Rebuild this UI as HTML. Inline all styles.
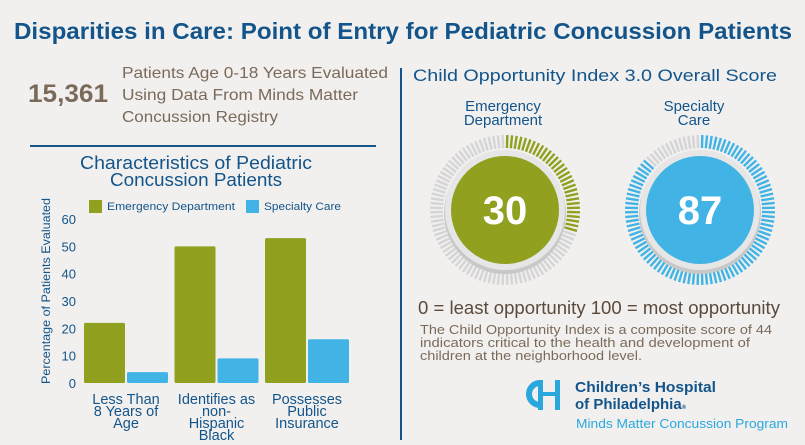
<!DOCTYPE html>
<html><head><meta charset="utf-8"><style>
body{margin:0;background:#f2f0ef;}
svg{display:block;font-family:"Liberation Sans",sans-serif;}
</style></head><body>
<svg id="s" width="805" height="445" viewBox="0 0 805 445">
<rect width="805" height="445" fill="#f2f0ef"/>
<text x="14" y="39" font-size="23" font-weight="bold" fill="#13558a" textLength="778" lengthAdjust="spacingAndGlyphs">Disparities in Care: Point of Entry for Pediatric Concussion Patients</text>
<line x1="401" y1="68" x2="401" y2="440" stroke="#13558a" stroke-width="2"/>
<line x1="30" y1="146" x2="376" y2="146" stroke="#13558a" stroke-width="2"/>
<text x="28" y="102" font-size="25" font-weight="bold" fill="#7a6a5a" textLength="80" lengthAdjust="spacingAndGlyphs">15,361</text>
<g font-size="16" fill="#7a6a5a">
<text x="122" y="78" textLength="266" lengthAdjust="spacingAndGlyphs">Patients Age 0-18 Years Evaluated</text>
<text x="122" y="100" textLength="236" lengthAdjust="spacingAndGlyphs">Using Data From Minds Matter</text>
<text x="122" y="122" textLength="156" lengthAdjust="spacingAndGlyphs">Concussion Registry</text>
</g>
<g font-size="18" fill="#13558a" text-anchor="middle">
<text x="196" y="169" textLength="232" lengthAdjust="spacingAndGlyphs">Characteristics of Pediatric</text>
<text x="196" y="186" textLength="172" lengthAdjust="spacingAndGlyphs">Concussion Patients</text>
</g>
<rect x="89" y="200" width="13" height="13" fill="#91a01f"/>
<text x="107" y="210" font-size="11" fill="#13558a" textLength="128" lengthAdjust="spacingAndGlyphs">Emergency Department</text>
<rect x="246" y="200" width="13" height="13" fill="#41b4e5"/>
<text x="264" y="210" font-size="11" fill="#13558a" textLength="77" lengthAdjust="spacingAndGlyphs">Specialty Care</text>
<text transform="translate(50,291) rotate(-90)" text-anchor="middle" font-size="12" fill="#13558a" textLength="186" lengthAdjust="spacingAndGlyphs">Percentage of Patients Evaluated</text>
<g id="chart"></g>
<text x="413" y="81" font-size="17" fill="#13558a" textLength="364" lengthAdjust="spacingAndGlyphs">Child Opportunity Index 3.0 Overall Score</text>
<g font-size="15" fill="#13558a" text-anchor="middle">
<text x="503" y="111"><tspan x="503">Emergency</tspan><tspan x="503" dy="14">Department</tspan></text>
<text x="694" y="111"><tspan x="694">Specialty</tspan><tspan x="694" dy="14">Care</tspan></text>
</g>
<g id="gauges"></g>
<text x="418" y="314" font-size="18" fill="#5a4a3c" textLength="362" lengthAdjust="spacingAndGlyphs">0 = least opportunity 100 = most opportunity</text>
<g font-size="13" fill="#7a6a5a">
<text x="420" y="334" textLength="352" lengthAdjust="spacingAndGlyphs">The Child Opportunity Index is a composite score of 44</text>
<text x="420" y="347" textLength="330" lengthAdjust="spacingAndGlyphs">indicators critical to the health and development of</text>
<text x="420" y="360" textLength="222" lengthAdjust="spacingAndGlyphs">children at the neighborhood level.</text>
</g>
<g>
<path d="M540 383 a11 11 0 1 0 0 22" fill="none" stroke="#2aa8dd" stroke-width="6"/>
<rect x="538" y="380" width="5" height="30" fill="#2aa8dd"/><rect x="555" y="380" width="5" height="30" fill="#2aa8dd"/>
<rect x="540" y="392" width="17" height="4" fill="#2aa8dd"/>
<text x="575" y="392" font-size="15" font-weight="bold" fill="#13558a" textLength="141" lengthAdjust="spacingAndGlyphs">Children’s Hospital</text>
<text x="575" y="409" font-size="15" font-weight="bold" fill="#13558a">of Philadelphia<tspan font-size="6">®</tspan></text>
<text x="576" y="428" font-size="13" fill="#2aa8dd" textLength="212" lengthAdjust="spacingAndGlyphs">Minds Matter Concussion Program</text>
</g>
</svg>
<script>
const categories=[["Less Than","8 Years of","Age"],["Identifies as","non-","Hispanic","Black"],["Possesses","Public","Insurance"]];
const edValues=[22,50,53];
const scValues=[4,9,16];
const yTicks=[0,10,20,30,40,50,60];
const gaugeScores=[30,87];
const NS="http://www.w3.org/2000/svg";
function mk(t,a,p){const e=document.createElementNS(NS,t);for(const k in a)e.setAttribute(k,a[k]);p.appendChild(e);return e;}
const chart=document.getElementById('chart');
const y=v=>383-v*(164/60);
const gx=i=>84+i*90.5;
yTicks.forEach(t=>{const e=mk('text',{x:76,y:y(t)+5,'text-anchor':'end','font-size':13,fill:'#13558a'},chart);e.textContent=t;

});
categories.forEach((c,i)=>{
const b1=mk('rect',{x:gx(i),y:y(edValues[i]),width:41,height:383-y(edValues[i]),fill:'#91a01f',rx:1.5},chart);


const b2=mk('rect',{x:gx(i)+43,y:y(scValues[i]),width:41,height:383-y(scValues[i]),fill:'#41b4e5',rx:1.5},chart);


const t=mk('text',{'text-anchor':'middle','font-size':14.5,fill:'#13558a'},chart);


c.forEach((l,j)=>{const s=mk('tspan',{x:gx(i)+42,y:404+j*12},t);s.textContent=l;});
});
const g=document.getElementById('gauges');
const centers=[[505,210,'#91a01f'],[700,210,'#41b4e5']];
gaugeScores.forEach((sc,k)=>{
const [cx,cy,col]=centers[k];
const grp=mk('g',{},g);


for(let i=0;i<100;i++){const a=(i+0.5)/100*2*Math.PI;const s=Math.sin(a),c=-Math.cos(a);
mk('line',{x1:cx+62*s,y1:cy+62*c,x2:cx+75*s,y2:cy+75*c,stroke:i<sc?col:'#d6d5d5','stroke-width':2.4},grp);}
mk('circle',{cx:cx,cy:cy+3,r:61,fill:'#c9c8c8'},grp);
mk('circle',{cx:cx,cy:cy,r:60,fill:'#e6e6e6'},grp);
mk('circle',{cx:cx,cy:cy,r:54,fill:col},grp);
const t=mk('text',{x:cx,y:cy+14,'text-anchor':'middle','font-size':40,'font-weight':'bold',fill:'#fff'},grp);
t.textContent=sc;


});
</script>
</body></html>
